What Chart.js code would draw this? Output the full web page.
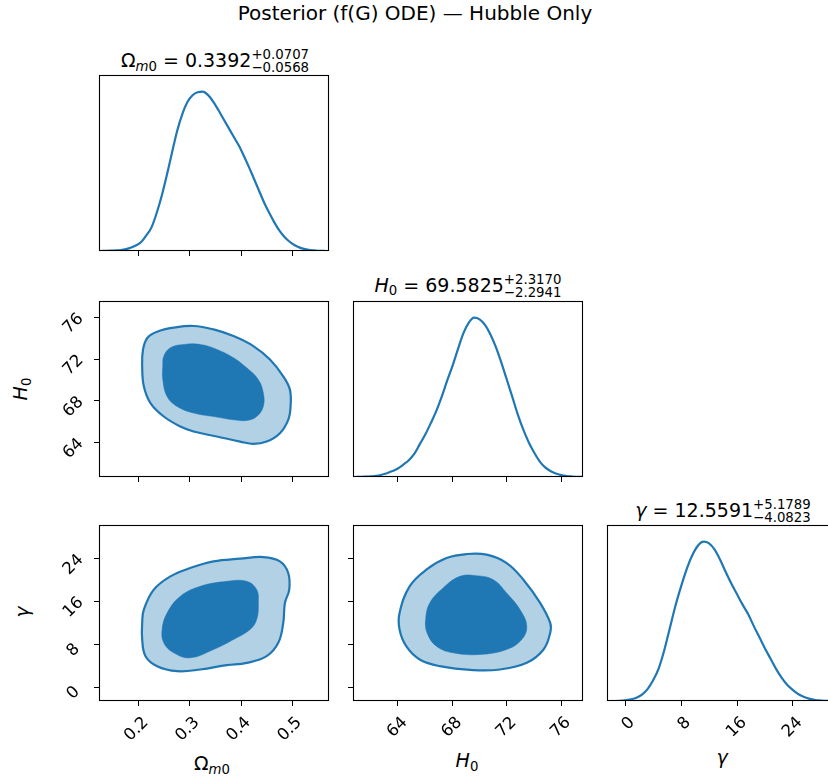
<!DOCTYPE html>
<html><head><meta charset="utf-8">
<script src="https://cdn.jsdelivr.net/npm/chart.js@4/dist/chart.umd.min.js"></script>
<style>
html,body{margin:0;padding:0;background:#fff;}
#fig{position:relative;width:828px;height:778px;overflow:hidden;font-family:"DejaVu Sans",sans-serif;color:#000;}
#fig canvas{position:absolute;}
.t{position:absolute;white-space:nowrap;line-height:1;transform:translateX(-50%);}
.sc{position:relative;font-size:13.3px;}
.ss{display:inline-block;position:relative;font-size:13.3px;line-height:1;top:5px;}
.ss .up{position:absolute;left:0;top:-13px;}
.rot{position:absolute;white-space:nowrap;line-height:1;transform:translate(-50%,-50%) rotate(-90deg);}
</style></head>
<body><div id="fig">
<div class="t" style="left:415px;top:2.5px;font-size:20px;">Posterior (f(G) ODE) — Hubble Only</div>
<div class="t" style="left:215px;top:51px;font-size:19px;">Ω<span class="sc" style="top:3.5px"><i>m</i>0</span> = 0.3392<span class="ss"><span class="up">+0.0707</span>−0.0568</span></div>
<div class="t" style="left:468px;top:275.7px;font-size:19px;"><i>H</i><span class="sc" style="top:3.5px">0</span> = 69.5825<span class="ss"><span class="up">+2.3170</span>−2.2941</span></div>
<div class="t" style="left:723px;top:500.7px;font-size:19px;"><i>γ</i> = 12.5591<span class="ss"><span class="up">+5.1789</span>−4.0823</span></div>
<div class="t" style="left:212px;top:754px;font-size:19px;">Ω<span class="sc" style="top:3.5px"><i>m</i>0</span></div>
<div class="t" style="left:467px;top:751px;font-size:19px;"><i>H</i><span class="sc" style="top:3.5px">0</span></div>
<div class="t" style="left:722px;top:748px;font-size:19px;"><i>γ</i></div>
<div class="rot" style="left:20px;top:389px;font-size:19px;"><i>H</i><span class="sc" style="top:3.5px">0</span></div>
<div class="rot" style="left:22px;top:612px;font-size:19px;"><i>γ</i></div>
</div>
<script>
// ---- axis ranges & ticks ----
const omRange = [0.122, 0.572];
const h0Range = [60.7, 77.6];
const gRange = [-2.6, 30.3];
const omTicks = [0.2, 0.3, 0.4, 0.5];
const omTickLabels = ['0.2', '0.3', '0.4', '0.5'];
const h0Ticks = [64, 68, 72, 76];
const h0TickLabels = ['64', '68', '72', '76'];
const gTicks = [0, 8, 16, 24];
const gTickLabels = ['0', '8', '16', '24'];

// ---- 1D marginal histograms (bin centres, normalised heights) ----
const omBins = [0.125,0.135,0.145,0.155,0.165,0.175,0.185,0.195,0.205,0.215,0.225,0.235,0.245,0.255,0.265,0.275,0.285,0.295,0.305,0.315,0.325,0.335,0.345,0.355,0.365,0.375,0.385,0.395,0.405,0.415,0.425,0.435,0.445,0.455,0.465,0.475,0.485,0.495,0.505,0.515,0.525,0.535,0.545,0.555,0.565];
const omHist = [0.000,0.001,0.002,0.004,0.006,0.012,0.022,0.036,0.058,0.100,0.150,0.240,0.350,0.480,0.620,0.755,0.860,0.935,0.978,0.997,1.000,0.980,0.940,0.888,0.832,0.776,0.720,0.665,0.600,0.530,0.455,0.380,0.305,0.240,0.180,0.128,0.088,0.058,0.036,0.021,0.012,0.006,0.003,0.001,0.000];
const h0Bins = [60.8,61.2,61.6,62.0,62.4,62.8,63.2,63.6,64.0,64.4,64.8,65.2,65.6,66.0,66.4,66.8,67.2,67.6,68.0,68.4,68.8,69.2,69.6,70.0,70.4,70.8,71.2,71.6,72.0,72.4,72.8,73.2,73.6,74.0,74.4,74.8,75.2,75.6,76.0,76.4,76.8,77.2,77.6];
const h0Hist = [0.000,0.001,0.002,0.004,0.007,0.014,0.024,0.037,0.053,0.078,0.105,0.145,0.205,0.265,0.335,0.410,0.500,0.600,0.695,0.800,0.900,0.968,1.000,0.990,0.955,0.895,0.815,0.718,0.612,0.505,0.395,0.300,0.220,0.155,0.100,0.062,0.038,0.022,0.012,0.006,0.003,0.001,0.000];
const gBins = [-2.4,-1.6,-0.8,0.0,0.8,1.6,2.4,3.2,4.0,4.8,5.6,6.4,7.2,8.0,8.8,9.6,10.4,11.2,12.0,12.8,13.6,14.4,15.2,16.0,16.8,17.6,18.4,19.2,20.0,20.8,21.6,22.4,23.2,24.0,24.8,25.6,26.4,27.2,28.0,28.8,29.6,30.4];
const gHist = [0,0,0.001,0.004,0.010,0.020,0.040,0.075,0.130,0.205,0.320,0.460,0.600,0.720,0.828,0.915,0.975,1.000,0.990,0.950,0.885,0.808,0.736,0.670,0.605,0.545,0.470,0.400,0.330,0.265,0.200,0.145,0.100,0.068,0.042,0.025,0.013,0.006,0.003,0.001,0,0];

// ---- 2D credible contours (outer = 95%, inner = 68%) ----
const omH0Outer = [[0.2065,71.34],[0.2080,72.90],[0.2165,74.05],[0.2357,74.65],[0.2682,75.04],[0.3071,75.20],[0.3461,74.87],[0.3851,74.23],[0.4240,73.27],[0.4565,71.98],[0.4825,70.37],[0.4955,69.09],[0.4968,67.48],[0.4922,66.19],[0.4760,64.91],[0.4500,64.10],[0.4240,63.88],[0.3981,64.10],[0.3526,64.59],[0.3071,65.07],[0.2812,65.55],[0.2487,66.51],[0.2227,67.80],[0.2097,69.41]];
const omH0Inner = [[0.2468,71.34],[0.2487,72.30],[0.2617,73.11],[0.2877,73.43],[0.3201,73.43],[0.3526,72.95],[0.3851,72.15],[0.4110,71.18],[0.4338,70.05],[0.4435,68.77],[0.4435,67.48],[0.4305,66.51],[0.4110,66.13],[0.3851,66.19],[0.3526,66.45],[0.3071,66.84],[0.2747,67.48],[0.2552,68.44],[0.2468,70.05]];
const omGOuter = [[0.2065,12.00],[0.2097,14.49],[0.2292,18.22],[0.2617,20.70],[0.3006,22.26],[0.3461,23.50],[0.3981,24.00],[0.4435,24.31],[0.4760,23.50],[0.4922,21.33],[0.4942,18.22],[0.4857,15.73],[0.4825,12.00],[0.4727,8.27],[0.4500,5.78],[0.4110,4.53],[0.3721,4.10],[0.3201,3.29],[0.2747,2.98],[0.2357,3.91],[0.2130,5.78],[0.2065,8.89]];
const omGInner = [[0.2455,10.75],[0.2552,13.86],[0.2812,16.97],[0.3201,18.84],[0.3721,19.77],[0.4110,19.77],[0.4305,18.22],[0.4338,15.73],[0.4305,12.62],[0.4175,10.75],[0.3851,8.89],[0.3461,7.02],[0.3006,5.47],[0.2682,6.40],[0.2487,8.27]];
const h0GOuter = [[64.12,13.86],[64.86,18.84],[66.09,21.95],[67.57,24.12],[69.04,24.87],[70.52,24.75],[71.99,23.19],[73.22,20.08],[74.45,15.73],[75.19,12.00],[75.19,10.13],[74.70,7.02],[73.47,4.53],[71.50,3.29],[69.53,3.17],[67.07,3.91],[65.60,5.16],[64.61,7.64],[64.12,10.75]];
const h0GInner = [[66.04,12.62],[66.34,15.73],[67.32,18.53],[68.55,20.70],[69.78,20.83],[71.01,20.08],[71.99,17.59],[72.97,14.49],[73.47,11.38],[73.10,8.89],[71.99,7.02],[70.02,6.09],[68.06,6.40],[66.83,7.64],[66.14,10.13]];

// ---- styling ----
const BLUE = '#1f77b4';
const LIGHT = 'rgba(31,119,180,0.34)';
const CLEAR = 'rgba(0,0,0,0)';
const PW = 230, PH = 176, L = 80, T = 10, R = 10, B = 70;
const TICKFONT = {family: 'DejaVu Sans', size: 16.5};

const frame = {
  id: 'frame',
  afterDraw(chart) {
    const a = chart.chartArea, ctx = chart.ctx;
    ctx.save();
    ctx.strokeStyle = '#000';
    ctx.lineWidth = 1.1;
    ctx.strokeRect(a.left + 0.5, a.top + 0.5, a.right - a.left - 1, a.bottom - a.top - 1);
    ctx.restore();
  }
};

function axis(range, ticks, labels, showTicks, showLabels, horizontal) {
  return {
    type: 'linear', min: range[0], max: range[1],
    afterBuildTicks: s => { s.ticks = ticks.map(v => ({value: v})); },
    afterFit: s => {
      if (horizontal) s.height = B; else s.width = L;
      s.paddingLeft = s.paddingRight = s.paddingTop = s.paddingBottom = 0;
    },
    grid: {display: showTicks, drawOnChartArea: false, drawTicks: true, tickLength: 5, tickWidth: 1, color: '#000', tickColor: '#000'},
    border: {display: false},
    ticks: {
      display: showLabels, autoSkip: false, minRotation: 45, maxRotation: 45,
      crossAlign: horizontal ? 'near' : 'center',
      color: '#000', font: TICKFONT, padding: horizontal ? 7 : 10,
      labelOffset: horizontal ? 7 : 6,
      callback: (v, i) => labels[i]
    }
  };
}

function pts(xs, ys) { return xs.map((x, i) => ({x: x, y: ys[i]})); }
// closed curve: wrap one point on each side so every visible segment has both neighbours
function loop(arr) {
  const p = arr.map(q => ({x: q[0], y: q[1]}));
  return [p[p.length - 1]].concat(p, [p[0], p[1]]);
}
function hideEnds(n) {
  return {borderColor: c => (c.p0DataIndex === 0 || c.p1DataIndex === n - 1) ? CLEAR : undefined};
}

function histDataset(xs, ys) {
  return {data: pts(xs, ys), showLine: true, cubicInterpolationMode: 'monotone', borderColor: BLUE, borderWidth: 2.2, pointRadius: 0, fill: false};
}
function contourDatasets(outer, inner) {
  const di = loop(inner), dout = loop(outer);
  return [
    {data: di, showLine: true, tension: 0.4, fill: 'shape', backgroundColor: BLUE, borderColor: BLUE, borderWidth: 0.5, pointRadius: 0, order: 1, segment: hideEnds(di.length)},
    {data: dout, showLine: true, tension: 0.4, fill: 'shape', backgroundColor: LIGHT, borderColor: BLUE, borderWidth: 2.2, pointRadius: 0, order: 2, segment: hideEnds(dout.length)}
  ];
}

const fig = document.getElementById('fig');
function panel(px, py, datasets, xs, ys) {
  const c = document.createElement('canvas');
  c.width = PW + L + R; c.height = PH + T + B;
  c.style.left = (px - L) + 'px'; c.style.top = (py - T) + 'px';
  c.style.width = c.width + 'px'; c.style.height = c.height + 'px';
  fig.appendChild(c);
  new Chart(c, {
    type: 'scatter',
    data: {datasets: datasets},
    options: {
      responsive: false, animation: false, events: [],
      layout: {padding: {left: 0, top: T, right: R, bottom: 0}},
      elements: {line: {capBezierPoints: false}},
      plugins: {legend: {display: false}, tooltip: {enabled: false}, title: {display: false}},
      scales: {x: xs, y: ys}
    },
    plugins: [frame]
  });
}

const C0 = 99, C1 = 353, C2 = 607;
const R0 = 75, R1 = 301, R2 = 525;
const histY = {type: 'linear', min: 0, max: 1.105,
  afterFit: s => { s.width = L; s.paddingLeft = s.paddingRight = s.paddingTop = s.paddingBottom = 0; },
  grid: {display: false}, border: {display: false}, ticks: {display: false}};

panel(C0, R0, [histDataset(omBins, omHist)], axis(omRange, omTicks, omTickLabels, true, false, true), histY);
panel(C0, R1, contourDatasets(omH0Outer, omH0Inner), axis(omRange, omTicks, omTickLabels, true, false, true), axis(h0Range, h0Ticks, h0TickLabels, true, true, false));
panel(C1, R1, [histDataset(h0Bins, h0Hist)], axis(h0Range, h0Ticks, h0TickLabels, true, false, true), histY);
panel(C0, R2, contourDatasets(omGOuter, omGInner), axis(omRange, omTicks, omTickLabels, true, true, true), axis(gRange, gTicks, gTickLabels, true, true, false));
panel(C1, R2, contourDatasets(h0GOuter, h0GInner), axis(h0Range, h0Ticks, h0TickLabels, true, true, true), axis(gRange, gTicks, gTickLabels, true, false, false));
panel(C2, R2, [histDataset(gBins, gHist)], axis(gRange, gTicks, gTickLabels, true, true, true), histY);
</script>
</body></html>
